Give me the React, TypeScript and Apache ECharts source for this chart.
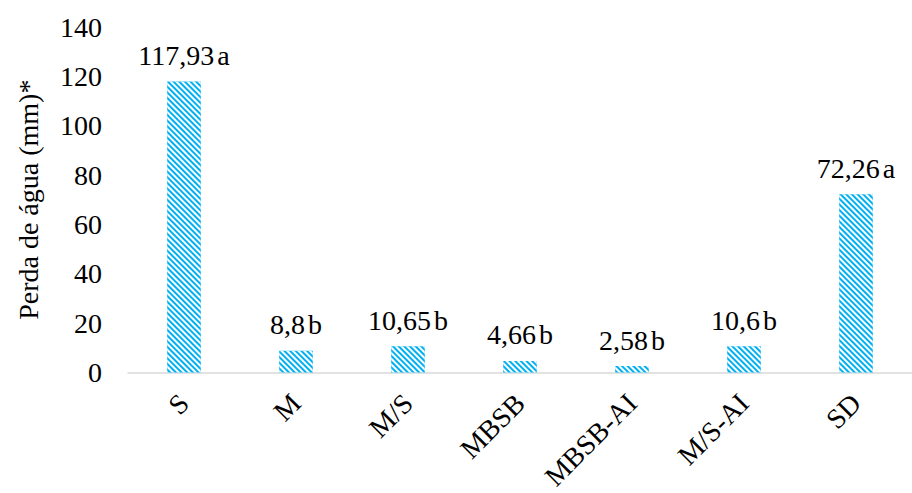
import React, { useEffect, useRef } from "react";
import * as echarts from "echarts";

const categories = ["S", "M", "M/S", "MBSB", "MBSB-AI", "M/S-AI", "SD"];
const values = [117.93, 8.8, 10.65, 4.66, 2.58, 10.6, 72.26];
const valueTexts = ["117,93", "8,8", "10,65", "4,66", "2,58", "10,6", "72,26"];
const letters = ["a", "b", "b", "b", "b", "b", "a"];
const yTicks = [0, 20, 40, 60, 80, 100, 120, 140];

const FONT = "Liberation Serif, Times New Roman, DejaVu Serif, serif";
const FS = 28;

export default function App() {
  const ref = useRef<HTMLDivElement>(null);
  useEffect(() => {
    if (!ref.current) return;
    const chart = echarts.init(ref.current, undefined, { renderer: "svg" });
    const txt = { fontFamily: FONT, fontSize: FS, color: "#000" };
    chart.setOption({
      animation: false,
      backgroundColor: "#ffffff",
      textStyle: { fontFamily: FONT },
      grid: { left: 128, top: 27, width: 789, height: 349, containLabel: false },
      xAxis: {
        type: "category",
        data: categories,
        axisLine: { show: true, lineStyle: { color: "#d9d9d9", width: 1.5 } },
        axisTick: { show: false },
        axisLabel: { rotate: 45, margin: 26, interval: 0, ...txt },
      },
      yAxis: {
        type: "value",
        min: yTicks[0],
        max: yTicks[yTicks.length - 1],
        interval: 20,
        name: "Perda de água (mm)*",
        nameLocation: "middle",
        nameGap: 86,
        nameRotate: 90,
        nameTextStyle: txt,
        axisLine: { show: false },
        axisTick: { show: false },
        splitLine: { show: false },
        axisLabel: { margin: 26, ...txt },
      },
      series: [
        {
          type: "bar",
          data: values,
          barWidth: "30%",
          itemStyle: {
            color: "#00B0F0",
            decal: {
              symbol: "rect",
              symbolSize: 1,
              dashArrayX: [[1, 0]],
              dashArrayY: [2, 2],
              rotation: Math.PI / 4,
              color: "#ffffff",
            },
          },
          label: {
            show: true,
            position: "top",
            distance: 12,
            ...txt,
            formatter: (p: any) => `{v|${valueTexts[p.dataIndex]}}{l|${letters[p.dataIndex]}}`,
            rich: {
              v: { ...txt },
              l: { ...txt, padding: [0, 0, 0, 3] },
            },
          },
        },
      ],
    });
    return () => chart.dispose();
  }, []);
  return (
    <div
      ref={ref}
      style={{ position: "absolute", left: 0, top: 0, width: 912, height: 493 }}
    />
  );
}
